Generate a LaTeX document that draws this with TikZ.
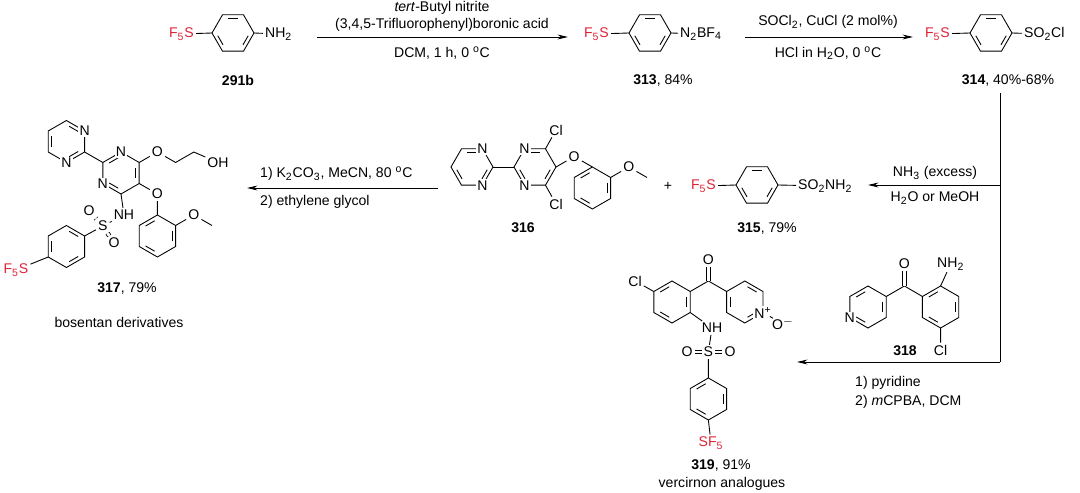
\documentclass[tikz,border=0pt]{standalone}
\usepackage{fontspec}
\setmainfont{Liberation Sans}
\usetikzlibrary{calc,arrows.meta}
\definecolor{sfred}{RGB}{222,35,55}
\newcommand\sub[1]{\textsubscript{#1}}
\newcommand\hexa[4]{%
  \coordinate (#1c) at (#2,#3);
  \foreach \k in {0,...,5}{\coordinate (#1\k) at ($(#2,#3)+({#4+60*\k}:21)$);}
  \draw (#10)--(#11)--(#12)--(#13)--(#14)--(#15)--cycle;}
\newcommand\db[3]{\draw[shorten <=1.8pt,shorten >=1.8pt] ($(#1#2)!0.2!(#1c)$)--($(#1#3)!0.2!(#1c)$);}
\begin{document}
\begin{tikzpicture}[x=0.02cm,y=-0.02cm,line width=0.5pt,
  every node/.style={font=\fontsize{8}{9.5}\selectfont,inner sep=1pt},
  atm/.style={fill=white,inner sep=0.6pt},
  rd/.style={text=sfred},
  arr/.style={-{Stealth[length=6pt,width=2.8pt]}},
  dbl/.style={double,double distance=1.6pt}]
\useasboundingbox (0,0) rectangle (1080,493);
% ---------- 291b
\hexa{A}{233}{33}{0}\db{A}{4}{5}\db{A}{0}{1}\db{A}{2}{3}
\node[rd,anchor=east] (a1) at (196,34) {F\sub{5}S};
\node[anchor=west] (a2) at (263,34) {NH\sub{2}};
\draw (a1)--(A3) (A0)--(a2);
\node (l291) at (238,80) {\textbf{291b}};
% arrow 1
\coordinate (r1a) at (317,37); \coordinate (r1b) at (568,37);
\draw[arr] (r1a)--(r1b);
\node (t1) at (442,8) {\textit{tert}-Butyl nitrite};
\node (t2) at (442,25) {(3,4,5-Trifluorophenyl)boronic acid};
\node (t3) at (442,53) {DCM, 1 h, 0 \textsuperscript{o}C};
% ---------- 313
\hexa{B}{650}{33}{0}\db{B}{4}{5}\db{B}{0}{1}\db{B}{2}{3}
\node[rd,anchor=east] (b1) at (611,34) {F\sub{5}S};
\node[anchor=west] (b2) at (678,34) {N\sub{2}BF\sub{4}};
\draw (b1)--(B3) (B0)--(b2);
\node (l313) at (663,80) {\textbf{313}, 84\%};
% arrow 2
\coordinate (r2a) at (745,37); \coordinate (r2b) at (913,37);
\draw[arr] (r2a)--(r2b);
\node (t4) at (828,22) {SOCl\sub{2}, CuCl (2 mol\%)};
\node (t5) at (828,53) {HCl in H\sub{2}O, 0 \textsuperscript{o}C};
% ---------- 314
\hexa{C}{991}{33}{0}\db{C}{4}{5}\db{C}{0}{1}\db{C}{2}{3}
\node[rd,anchor=east] (c1) at (952,34) {F\sub{5}S};
\node[anchor=west] (c2) at (1022,34) {SO\sub{2}Cl};
\draw (c1)--(C3) (C0)--(c2);
\node (l314) at (1008,80) {\textbf{314}, 40\%-68\%};
% ---------- right line and arrows
\coordinate (v0) at (1000,93); \coordinate (v1) at (1000,185); \coordinate (v2) at (1000,362);
\coordinate (e1) at (868,185); \coordinate (e2) at (797,362);
\draw (v0)--(v2);
\draw[arr] (v1)--(e1);
\draw[arr] (v2)--(e2);
\node (t6) at (935,173) {NH\sub{3} (excess)};
\node (t7) at (935,198) {H\sub{2}O or MeOH};
\node[anchor=west] (t8) at (853,383) {1) pyridine};
\node[anchor=west] (t9) at (853,402) {2) \textit{m}CPBA, DCM};
% ---------- 315
\hexa{D}{757}{185}{0}\db{D}{4}{5}\db{D}{0}{1}\db{D}{2}{3}
\node[rd,anchor=east] (d1) at (718,186) {F\sub{5}S};
\node[anchor=west] (d2) at (796,186) {SO\sub{2}NH\sub{2}};
\draw (d1)--(D3) (D0)--(d2);
\node (l315) at (767,228) {\textbf{315}, 79\%};
\node (plus) at (668,186) {+};
% ---------- 316
\hexa{E}{472}{167}{0}\db{E}{4}{5}\db{E}{0}{1}\db{E}{2}{3}
\hexa{F}{535}{167}{0}\db{F}{4}{5}\db{F}{0}{1}\db{F}{2}{3}
\draw (E0)--(F3);
\node[atm] (en1) at (E5) {N};
\node[atm] (en2) at (E1) {N};
\node[atm] (fn1) at (F4) {N};
\node[atm] (fn2) at (F2) {N};
\node (fcl1) at (556,130) {Cl};
\node (fcl2) at (556,204) {Cl};
\node (fo) at (574.2,156.5) {O};
\draw (F5)--(fcl1) (F1)--(fcl2) (F0)--(fo);
\hexa{G}{592.4}{188}{30}\db{G}{5}{0}\db{G}{1}{2}\db{G}{3}{4}
\node (go) at (628.8,167) {O};
\coordinate (gme) at (647,177.5);
\draw (fo)--(G4) (G5)--(go)--(gme);
\node (l316) at (523,228) {\textbf{316}};
% arrow 3
\coordinate (r3a) at (438,188); \coordinate (r3b) at (247,188);
\draw[arr] (r3a)--(r3b);
\node[anchor=west] (t10) at (258,174) {1) K\sub{2}CO\sub{3}, MeCN, 80 \textsuperscript{o}C};
\node[anchor=west] (t11) at (258,202) {2) ethylene glycol};
% ---------- 317
\hexa{H}{121}{173}{30}\db{H}{3}{4}\db{H}{5}{0}\db{H}{1}{2}
\hexa{I}{66.4}{141.5}{30}\db{I}{4}{5}\db{I}{2}{3}\db{I}{0}{1}
\draw (I0)--(H3);
\node[atm] (hn1) at (H4) {N};
\node[atm] (hn2) at (H2) {N};
\node[atm] (in1) at (I5) {N};
\node[atm] (in2) at (I1) {N};
\node (ho1) at (157.4,152) {O};
\coordinate (hc1) at (175.6,162.5); \coordinate (hc2) at (193.8,152);
\node (hoh) at (218,162.5) {OH};
\draw (H5)--(ho1)--(hc1)--(hc2)--(hoh);
\node (ho2) at (157.4,194) {O};
\hexa{J}{157.4}{236}{30}\db{J}{5}{0}\db{J}{1}{2}\db{J}{3}{4}
\node (jo) at (193.8,215) {O};
\coordinate (jme) at (212,225.5);
\draw (H0)--(ho2)--(J4) (J5)--(jo)--(jme);
\node (hnh) at (124,215) {NH};
\node (hs) at (102.8,226) {S};
\node (hos1) at (89,211) {O};
\node (hos2) at (114,243) {O};
\draw (H1)--(hnh) (hnh)--(hs);
\draw[dbl] (hs)--(hos1);
\draw[dbl] (hs)--(hos2);
\hexa{K}{66.4}{246.5}{30}\db{K}{0}{1}\db{K}{2}{3}\db{K}{4}{5}
\node[rd] (kf) at (16,270) {F\sub{5}S};
\draw (hs)--(K5) (K2)--(kf);
\node (l317) at (127,288) {\textbf{317}, 79\%};
\node (l317b) at (119,322) {bosentan derivatives};
% ---------- 318
\hexa{L}{868}{307}{30}\db{L}{1}{2}\db{L}{3}{4}\db{L}{5}{0}
\node[atm] (ln) at (L2) {N};
\coordinate (lco) at (904.4,286);
\node (lo) at (904.4,264) {O};
\hexa{M}{940.6}{307}{30}\db{M}{5}{0}\db{M}{1}{2}\db{M}{3}{4}
\node[anchor=west] (mnh) at (935,264) {NH\sub{2}};
\node (mcl) at (940.6,350) {Cl};
\draw (L5)--(lco)--(M3) (M4)--(mnh) (M1)--(mcl);
\draw[dbl] (lco)--(lo);
\node (l318) at (905,351) {\textbf{318}};
% ---------- 319
\hexa{N}{672}{302}{30}\db{N}{1}{2}\db{N}{3}{4}\db{N}{5}{0}
\node (ncl) at (635,281) {Cl};
\coordinate (nco) at (708.4,281);
\node (no) at (708.4,260) {O};
\hexa{P}{744.8}{302}{30}\db{P}{4}{5}\db{P}{0}{1}\db{P}{2}{3}
\node[atm] (pn) at (P0) {N\textsuperscript{+}};
\node (pom) at (783,324) {O\textsuperscript{$-$}};
\draw (N3)--(ncl) (N5)--(nco)--(P3) (pn)--(pom);
\draw[dbl] (nco)--(no);
\node (nnh) at (712,328) {NH};
\node (ns) at (708.4,352) {S};
\node (nos1) at (687,352) {O};
\node (nos2) at (730,352) {O};
\draw (N0)--(nnh) (nnh)--(ns);
\draw[dbl] (ns)--(nos1);
\draw[dbl] (ns)--(nos2);
\hexa{Q}{708.4}{399}{30}\db{Q}{5}{0}\db{Q}{1}{2}\db{Q}{3}{4}
\node[rd] (qsf) at (711,443) {SF\sub{5}};
\draw (ns)--(Q4) (Q1)--(qsf);
\node (l319) at (721,465) {\textbf{319}, 91\%};
\node (l319b) at (722,484) {vercirnon analogues};
\end{tikzpicture}
\end{document}
